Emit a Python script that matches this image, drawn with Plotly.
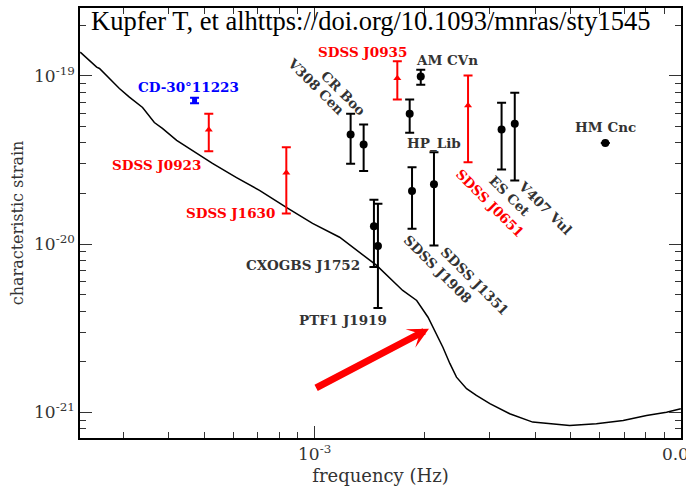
import numpy as np
import plotly.graph_objects as go

# LISA sensitivity curve
curve_f = [2.29e-4, 2.47e-4, 2.54e-4, 2.585e-4, 2.70e-4, 2.93e-4, 3.12e-4, 3.39e-4, 3.65e-4, 3.84e-4,
           4.20e-4, 4.76e-4, 5.26e-4, 6.12e-4, 7.07e-4, 8.39e-4, 9.87e-4, 1.17e-3, 1.477e-3, 1.74e-3,
           1.90e-3, 2.04e-3, 2.15e-3, 2.24e-3, 2.34e-3, 2.44e-3, 2.60e-3, 2.765e-3, 3.01e-3, 3.41e-3,
           3.94e-3, 4.97e-3, 5.88e-3, 6.96e-3, 8.06e-3, 9.14e-3, 1.0e-2]
curve_h = [1.385e-19, 1.203e-19, 1.128e-19, 1.108e-19, 1.007e-19, 8.43e-20, 7.48e-20, 6.50e-20, 5.29e-20, 4.88e-20,
           4.14e-20, 3.46e-20, 3.02e-20, 2.49e-20, 2.09e-20, 1.65e-20, 1.33e-20, 1.10e-20, 7.48e-21, 5.31e-21,
           4.63e-21, 3.68e-21, 2.95e-21, 2.44e-21, 1.955e-21, 1.62e-21, 1.383e-21, 1.262e-21, 1.127e-21, 9.82e-22,
           8.76e-22, 8.37e-22, 8.57e-22, 8.96e-22, 9.60e-22, 1.004e-21, 1.052e-21]

# Verification binaries (black)
black_names = ["V308 Cen", "CR Boo", "CXOGBS J1752", "PTF1 J1919", "HP_Lib", "SDSS J1908",
               "AM CVn", "SDSS J1351", "ES Cet", "V407 Vul", "HM Cnc"]
black_f = [1.254e-3, 1.361e-3, 1.452e-3, 1.489e-3, 1.818e-3, 1.845e-3, 1.949e-3, 2.118e-3, 3.24e-3, 3.52e-3, 6.22e-3]
black_h = [4.49e-20, 3.92e-20, 1.28e-20, 9.74e-21, 5.96e-20, 2.07e-20, 9.93e-20, 2.27e-20, 4.81e-20, 5.20e-20, 3.99e-20]
black_hi = [5.96e-20, 5.15e-20, 1.837e-20, 1.74e-20, 7.25e-20, 2.87e-20, 1.089e-19, 3.52e-20, 6.93e-20, 7.94e-20, 3.99e-20]
black_lo = [3.01e-20, 2.72e-20, 7.31e-21, 4.17e-21, 4.60e-20, 1.235e-20, 8.87e-20, 9.83e-21, 2.78e-20, 2.39e-20, 3.99e-20]

# Red systems
red_names = ["SDSS J0923", "SDSS J1630", "SDSS J0935", "SDSS J0651"]
red_f = [5.14e-4, 8.37e-4, 1.682e-3, 2.624e-3]
red_h = [4.79e-20, 2.66e-20, 9.70e-20, 6.68e-20]
red_hi = [5.96e-20, 3.77e-20, 1.224e-19, 1.007e-19]
red_lo = [3.57e-20, 1.52e-20, 7.25e-20, 3.07e-20]

# Blue system
blue_names = ["CD-30°11223"]
blue_f = [4.70e-4]
blue_h = [7.15e-20]
blue_hi = [7.42e-20]
blue_lo = [6.89e-20]

# axis ticks
x_major = [1e-3, 1e-2]
x_major_text = ["10<sup>-3</sup>", "0.01"]
y_major = [1e-21, 1e-20, 1e-19]
y_major_text = ["10<sup>-21</sup>", "10<sup>-20</sup>", "10<sup>-19</sup>"]
x_minor = [3e-4, 4e-4, 5e-4, 6e-4, 7e-4, 8e-4, 9e-4, 2e-3, 3e-3, 4e-3, 5e-3, 6e-3, 7e-3, 8e-3, 9e-3]
y_minor = [8e-22, 9e-22, 2e-21, 3e-21, 4e-21, 5e-21, 6e-21, 7e-21, 8e-21, 9e-21,
           2e-20, 3e-20, 4e-20, 5e-20, 6e-20, 7e-20, 8e-20, 9e-20, 2e-19]

SERIF = "DejaVu Serif"
GRAY = "#333333"
TICKC = "#333333"

L, R, T, B = 80, 5, 8, 50
W, H = 686, 488
PW, PH = W - L - R, H - T - B

fig = go.Figure()

fig.add_trace(go.Scatter(x=curve_f, y=curve_h, mode="lines",
                         line=dict(color="black", width=1.5), showlegend=False, hoverinfo="skip"))


def add_points(f, h, hi, lo, color, symbol, size):
    fig.add_trace(go.Scatter(
        x=f, y=h, mode="markers",
        marker=dict(color=color, symbol=symbol, size=size),
        error_y=dict(type="data", symmetric=False,
                     array=[a - b for a, b in zip(hi, h)],
                     arrayminus=[b - c for b, c in zip(h, lo)],
                     color=color, thickness=2, width=4.5),
        showlegend=False))


add_points(black_f, black_h, black_hi, black_lo, "black", "circle", 8)
add_points(red_f, red_h, red_hi, red_lo, "#ff0000", "triangle-up", 7)
add_points(blue_f, blue_h, blue_hi, blue_lo, "#0000ff", "square", 5)

# labels: (text, log10 f, log10 h, color, angle)
labels = [
    ("CD-30°11223", -3.344, -19.068, "#0000ff", 0),
    ("SDSS J0923", -3.432, -19.532, "#ff0000", 0),
    ("SDSS J1630", -3.230, -19.817, "#ff0000", 0),
    ("SDSS J0935", -2.870, -18.859, "#ff0000", 0),
    ("AM CVn", -2.638, -18.904, GRAY, 0),
    ("HP_Lib", -2.675, -19.403, GRAY, 0),
    ("HM Cnc", -2.205, -19.304, GRAY, 0),
    ("CXOGBS J1752", -3.033, -20.126, GRAY, 0),
    ("PTF1 J1919", -2.922, -20.453, GRAY, 0),
    ("V308 Cen", -2.997, -19.062, GRAY, 45),
    ("CR Boo", -2.922, -19.104, GRAY, 45),
    ("SDSS J0651", -2.522, -19.758, "#ff0000", 45),
    ("ES Cet", -2.467, -19.716, GRAY, 45),
    ("V407 Vul", -2.369, -19.782, GRAY, 45),
    ("SDSS J1908", -2.664, -20.150, GRAY, 45),
    ("SDSS J1351", -2.563, -20.221, GRAY, 45),
]
for text, lx, ly, col, ang in labels:
    fig.add_annotation(x=lx, y=ly, xref="x", yref="y", text="<b>" + text + "</b>",
                       showarrow=False, textangle=ang, xanchor="center", yanchor="middle",
                       font=dict(family=SERIF, size=13.5, color=col))

# red arrow
fig.add_annotation(x=-2.6877, y=-20.5025, ax=-3.0, ay=-20.8592, xref="x", yref="y",
                   axref="x", ayref="y", showarrow=True, arrowhead=3, arrowsize=0.5,
                   arrowwidth=7, arrowcolor="#ff0000", text="")

# citation text on top
fig.add_annotation(x=(370.5 - L) / PW, y=(H - B - 21) / PH, xref="paper", yref="paper",
                   text="Kupfer T, et alhttps://doi.org/10.1093/mnras/sty1545",
                   showarrow=False, xanchor="center", yanchor="middle",
                   font=dict(family="Liberation Serif", size=26.5, color="black"))

fig.update_layout(
    width=W, height=H,
    margin=dict(l=L, r=R, t=T, b=B),
    paper_bgcolor="white", plot_bgcolor="white",
    xaxis=dict(type="log", showline=True, linecolor="black", linewidth=1.5, mirror="allticks",
               ticks="inside", ticklen=12, tickwidth=1.2, tickcolor=TICKC, automargin=False,
               showgrid=False, zeroline=False, ticklabeloverflow="allow",
               tickfont=dict(family=SERIF, size=17, color=GRAY),
               range=[-3.6407, -1.9995], tickmode="array",
               tickvals=x_major, ticktext=x_major_text,
               minor=dict(tickmode="array", tickvals=x_minor, ticks="inside", ticklen=6,
                          tickwidth=1.2, tickcolor=TICKC, showgrid=False),
               title=dict(text="frequency (Hz)", font=dict(family=SERIF, size=18, color=GRAY), standoff=6)),
    yaxis=dict(type="log", showline=True, linecolor="black", linewidth=1.5, mirror="allticks",
               ticks="inside", ticklen=12, tickwidth=1.2, tickcolor=TICKC, automargin=False,
               showgrid=False, zeroline=False,
               tickfont=dict(family=SERIF, size=17, color=GRAY),
               range=[-21.152, -18.596], tickmode="array",
               tickvals=y_major, ticktext=y_major_text,
               minor=dict(tickmode="array", tickvals=y_minor, ticks="inside", ticklen=6,
                          tickwidth=1.2, tickcolor=TICKC, showgrid=False),
               title=dict(text="characteristic strain", font=dict(family=SERIF, size=16, color=GRAY), standoff=6)),
)

fig.write_html("out.html", config={"displayModeBar": False},
               post_script="document.body.style.margin='0';document.body.style.overflow='hidden';")
